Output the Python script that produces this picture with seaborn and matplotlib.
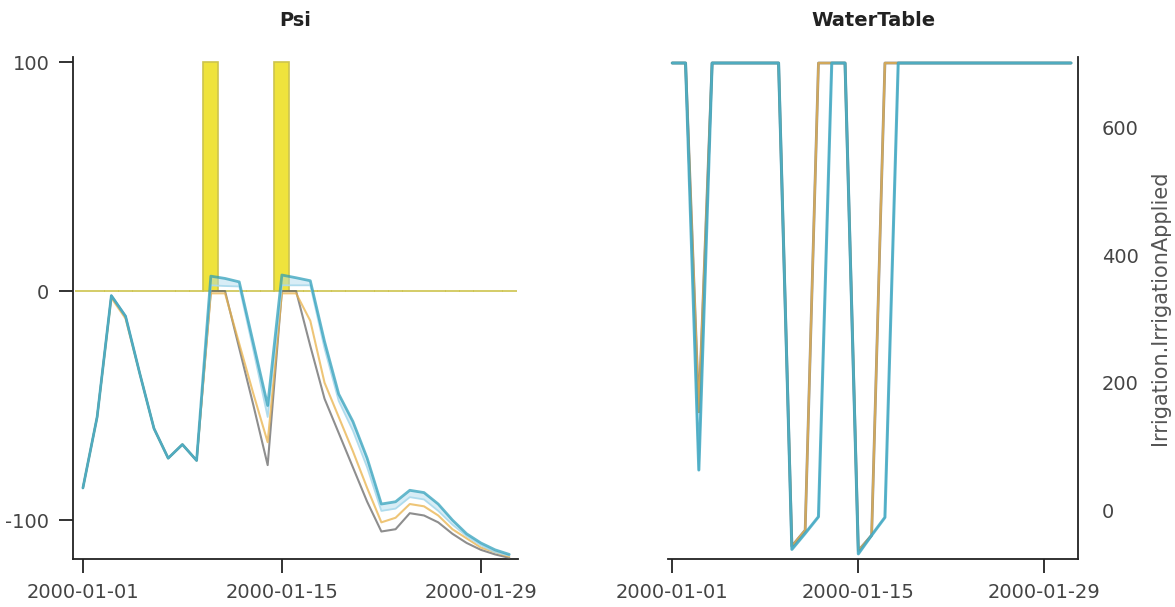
import pandas as pd
import matplotlib
matplotlib.use("Agg")
import matplotlib.pyplot as plt
import matplotlib.dates as mdates
import seaborn as sns

# --- data -----------------------------------------------------------------
dates = pd.date_range("2000-01-01", periods=31, freq="D")

# soil water potential (Psi) for four simulations
psi_grey = [-86, -55, -2, -11, -36, -60, -73, -67, -74,
            0, 0, -25, -50, -76, 0, 0, -24, -47, -62, -77, -92,
            -105, -104, -97, -98, -101, -106, -110, -113, -115, -116.5]
psi_orange = [-86, -55, -3, -12, -36, -60, -73, -67, -74,
              -1, -1, -23, -45, -66, -1, -1, -13, -40, -55, -70, -86,
              -101, -99, -93, -94, -98, -104, -108, -112, -114, -116]
psi_light = [-86, -55, -2, -11, -36, -60, -73, -67, -74,
             2.5, 2.2, 2, -26, -55, 2.5, 2.5, 2.5, -25, -48, -61, -77,
             -96, -95, -90, -91, -96, -102, -107, -111, -114, -115.5]
psi_blue = [-86, -55, -2, -11, -36, -60, -73, -67, -74,
            6.5, 5.5, 4, -23, -50, 7, 5.8, 4.5, -22, -45, -57, -73,
            -93, -92, -87, -88, -93, -100, -106, -110, -113, -115]

# irrigation applied each day
irrigation = [0, 0, 0, 0, 0, 0, 0, 0, 0, 100, 0, 0, 0, 0, 100, 0,
              0, 0, 0, 0, 0, 0, 0, 0, 0, 0, 0, 0, 0, 0, 0]

# water table depth
wt_early = [700, 700, 155, 700, 700, 700, 700, 700, 700,
            -55, -30, 700, 700, 700, -62, -38, 700, 700, 700, 700, 700,
            700, 700, 700, 700, 700, 700, 700, 700, 700, 700]
wt_late = [700, 700, 64, 700, 700, 700, 700, 700, 700,
           -60, -35, -9, 700, 700, -67, -38, -10, 700, 700, 700, 700,
           700, 700, 700, 700, 700, 700, 700, 700, 700, 700]

c_grey, c_orange, c_light, c_blue = "#5e5e5e", "#e9b24a", "#a9d9ec", "#2a9db9"
c_bar, c_bar_edge = "#efe33c", "#cdc44e"

# --- styling --------------------------------------------------------------
sns.set_style("ticks")
plt.rcParams["font.family"] = ["DejaVu Sans"]
plt.rcParams["axes.unicode_minus"] = False
plt.rcParams["xtick.color"] = "#222222"
plt.rcParams["ytick.color"] = "#222222"
plt.rcParams["xtick.labelcolor"] = "#444444"
plt.rcParams["ytick.labelcolor"] = "#444444"

fig = plt.figure(figsize=(11.75, 6.07), dpi=100)
ax1 = fig.add_axes([0.0621, 0.0791, 0.3787, 0.827])
ax2 = fig.add_axes([0.5685, 0.0791, 0.3490, 0.827])

# --- Psi panel --------------------------------------------------------------
ax1.bar(dates, irrigation, width=1.05, color=c_bar, edgecolor=c_bar_edge,
        linewidth=1.2, zorder=1)
ax1.fill_between(dates, psi_light, psi_blue, color=c_light, alpha=0.45,
                 lw=0, zorder=2)
sns.lineplot(x=dates, y=psi_grey, color=c_grey, lw=1.5, alpha=0.7, ax=ax1, zorder=3)
sns.lineplot(x=dates, y=psi_orange, color=c_orange, lw=1.5, alpha=0.75, ax=ax1, zorder=3)
sns.lineplot(x=dates, y=psi_light, color=c_light, lw=1.3, alpha=0.9, ax=ax1, zorder=3)
sns.lineplot(x=dates, y=psi_blue, color=c_blue, lw=2.0, alpha=0.72, ax=ax1, zorder=4)

ax1.set_ylim(-117, 102.2)
ax1.set_yticks([-100, 0, 100])
ax1.set_xlim(dates[0] - pd.Timedelta(days=0.7), dates[0] + pd.Timedelta(days=30.61))
sns.despine(ax=ax1)

# --- WaterTable panel -------------------------------------------------------
sns.lineplot(x=dates, y=wt_early, color=c_grey, lw=2.0, alpha=0.7, ax=ax2)
sns.lineplot(x=dates, y=wt_early, color=c_orange, lw=1.6, alpha=0.75, ax=ax2)
sns.lineplot(x=dates, y=wt_late, color=c_light, lw=1.3, alpha=0.9, ax=ax2)
sns.lineplot(x=dates, y=wt_late, color=c_blue, lw=2.2, alpha=0.72, ax=ax2)

ax2.set_ylim(-75, 709.4)
ax2.set_yticks([0, 200, 400, 600])
ax2.set_xlim(dates[0] - pd.Timedelta(days=0.32), dates[0] + pd.Timedelta(days=30.53))
ax2.yaxis.tick_right()
ax2.yaxis.set_label_position("right")
sns.despine(ax=ax2, left=True, right=False)

for ax, title in ((ax1, "Psi"), (ax2, "WaterTable")):
    ax.set_title(title, fontsize=14, fontweight="bold", pad=22, color="#222222")
    ax.set_xlabel("")
    ax.set_xticks(pd.to_datetime(["2000-01-01", "2000-01-15", "2000-01-29"]))
    ax.xaxis.set_major_formatter(mdates.DateFormatter("%Y-%m-%d"))
    ax.tick_params(labelsize=14, length=10, width=1.3, pad=7)
    for s in ax.spines.values():
        s.set_linewidth(1.3)
        s.set_color("#222222")

ax2.set_ylabel("Irrigation.IrrigationApplied", fontsize=15, color="#555555",
               labelpad=8)

fig.savefig("out.png", dpi=100)
